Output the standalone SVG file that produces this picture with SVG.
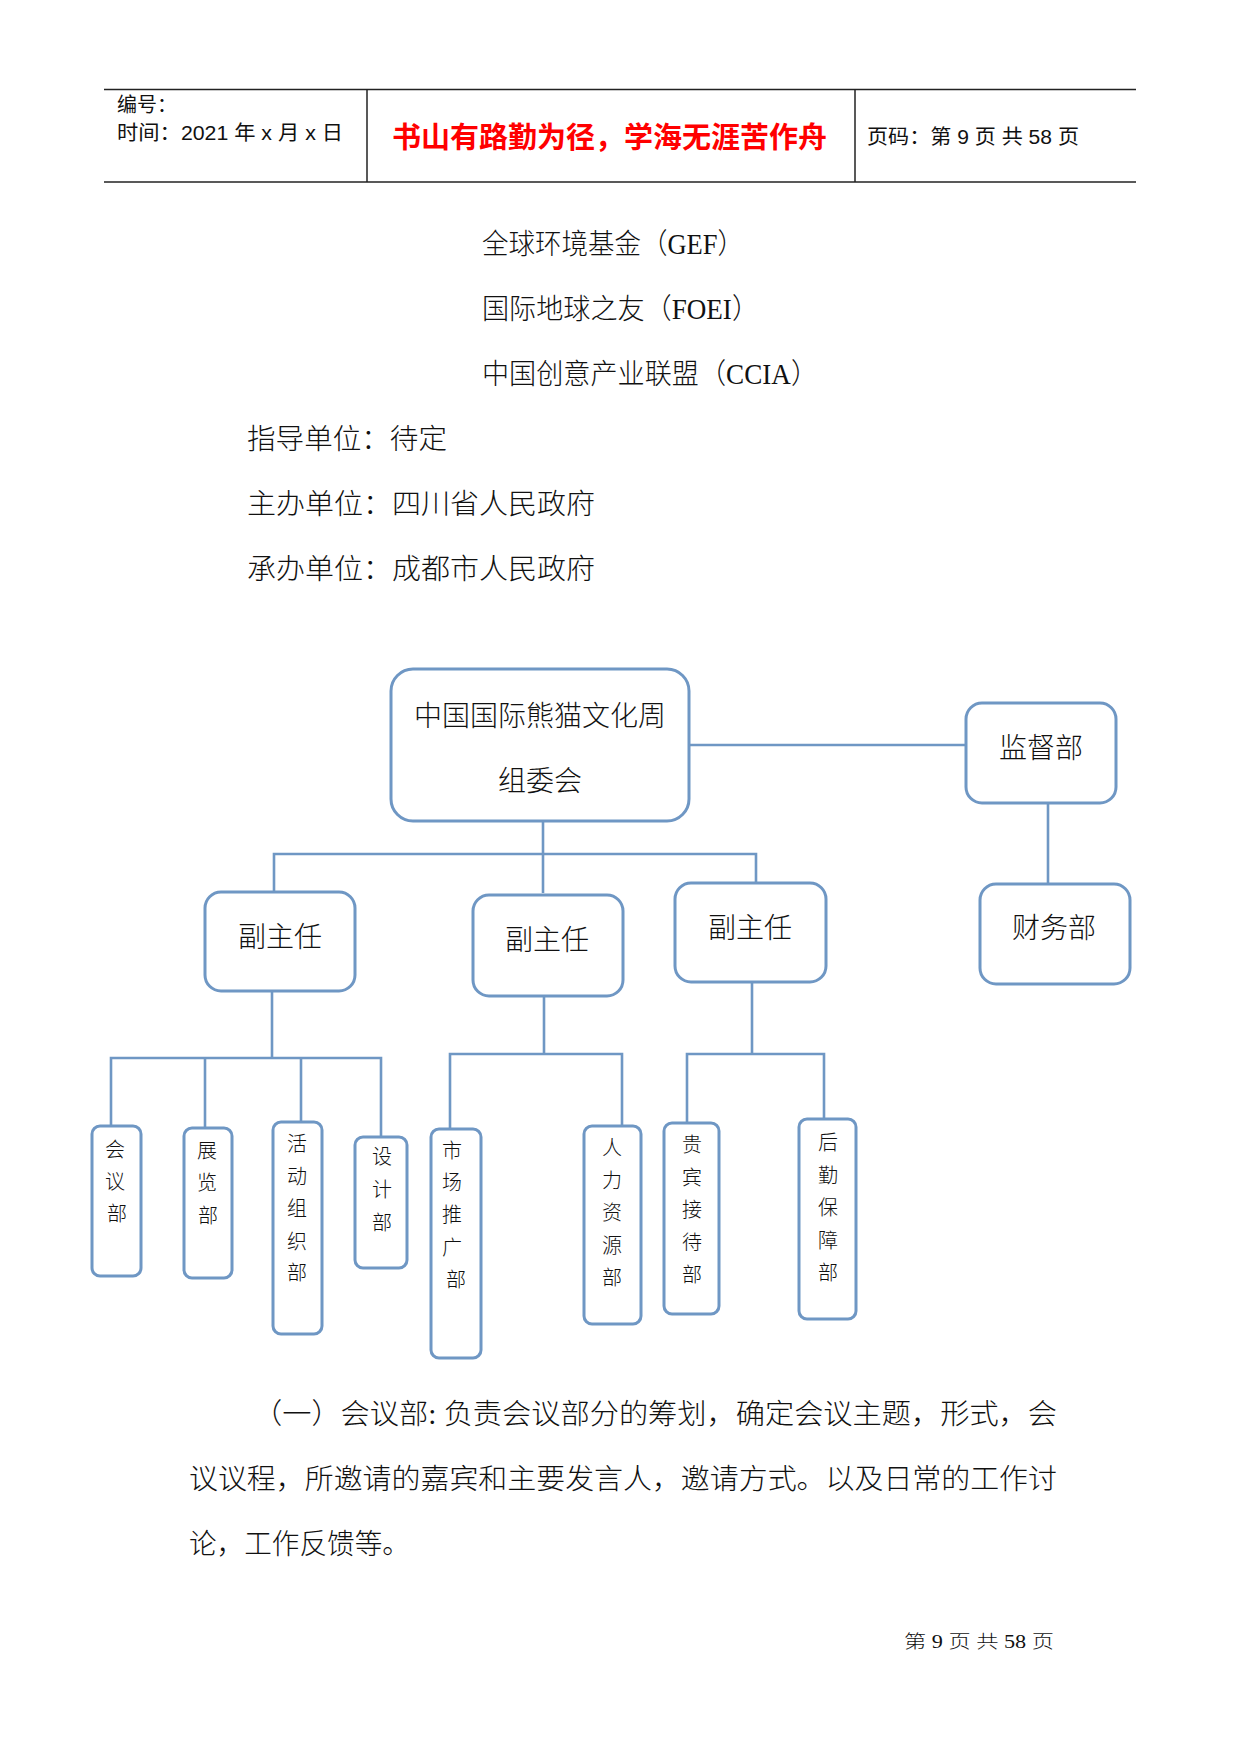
<svg xmlns="http://www.w3.org/2000/svg" width="1241" height="1754" viewBox="0 0 1241 1754">
<style>
.t{font-family:"Liberation Serif","Noto Sans CJK SC",serif;fill:#111;font-weight:300}
.h{font-family:"Liberation Sans","Noto Sans CJK SC",sans-serif;fill:#111}
.body{font-size:28.5px}
.box{fill:#fff;stroke:#6f97c4;stroke-width:3}
.con{fill:none;stroke:#6f97c4;stroke-width:2.6}
.lab{font-size:28px;text-anchor:middle}
.v{font-size:20px;text-anchor:middle}
.rule{stroke:#222;stroke-width:1.5}
</style>
<rect width="1241" height="1754" fill="#fff"/>
<g id="header">
<line class="rule" x1="104" y1="89.5" x2="1136" y2="89.5"/>
<line class="rule" x1="104" y1="182" x2="1136" y2="182"/>
<line class="rule" x1="367" y1="89.5" x2="367" y2="182"/>
<line class="rule" x1="855" y1="89.5" x2="855" y2="182"/>
<text class="h" x="117" y="112" font-size="20">编号：</text>
<text class="h" x="117" y="140" font-size="20" textLength="226" lengthAdjust="spacingAndGlyphs">时间：2021 年 x 月 x 日</text>
<text x="392" y="148" font-size="29" font-weight="bold" fill="#ff0000" font-family="'Noto Sans CJK SC',sans-serif" textLength="435" lengthAdjust="spacingAndGlyphs">书山有路勤为径，学海无涯苦作舟</text>
<text class="h" x="867" y="144" font-size="20" textLength="212" lengthAdjust="spacingAndGlyphs">页码：第 9 页 共 58 页</text>
</g>
<g id="intro">
<text class="t body" x="482" y="254" textLength="262" lengthAdjust="spacingAndGlyphs">全球环境基金（GEF）</text>
<text class="t body" x="482" y="319" textLength="277" lengthAdjust="spacingAndGlyphs">国际地球之友（FOEI）</text>
<text class="t body" x="482" y="384" textLength="336" lengthAdjust="spacingAndGlyphs">中国创意产业联盟（CCIA）</text>
<text class="t body" x="247" y="449" textLength="200" lengthAdjust="spacingAndGlyphs">指导单位：待定</text>
<text class="t body" x="247" y="514" textLength="348" lengthAdjust="spacingAndGlyphs">主办单位：四川省人民政府</text>
<text class="t body" x="247" y="579" textLength="348" lengthAdjust="spacingAndGlyphs">承办单位：成都市人民政府</text>
</g>
<g id="connectors">
<path class="con" d="M689 745 H966"/>
<path class="con" d="M1048 803 V884"/>
<path class="con" d="M543 821 V893"/>
<path class="con" d="M274 892 V854 H756 V883"/>
<path class="con" d="M272 991 V1058"/>
<path class="con" d="M111 1126 V1058 H381 V1137"/>
<path class="con" d="M205 1058 V1128"/>
<path class="con" d="M301 1058 V1122"/>
<path class="con" d="M544 996 V1054"/>
<path class="con" d="M450 1129 V1054 H622 V1126"/>
<path class="con" d="M752 982 V1054"/>
<path class="con" d="M687 1123 V1054 H824 V1119"/>
</g>
<g id="n-committee">
<rect class="box" x="391" y="669" width="298" height="152" rx="22"/>
<text class="t lab" x="540" y="726">中国国际熊猫文化周</text>
<text class="t lab" x="540" y="791">组委会</text>
</g>
<g id="n-supervise">
<rect class="box" x="966" y="703" width="150" height="100" rx="16"/>
<text class="t lab" x="1041" y="758">监督部</text>
</g>
<g id="n-finance">
<rect class="box" x="980" y="884" width="150" height="100" rx="16"/>
<text class="t lab" x="1054" y="938">财务部</text>
</g>
<g id="n-deputy1">
<rect class="box" x="205" y="892" width="150" height="99" rx="16"/>
<text class="t lab" x="280" y="947">副主任</text>
</g>
<g id="n-deputy2">
<rect class="box" x="473" y="895" width="150" height="101" rx="16"/>
<text class="t lab" x="547" y="950">副主任</text>
</g>
<g id="n-deputy3">
<rect class="box" x="675" y="883" width="151" height="99" rx="16"/>
<text class="t lab" x="750" y="938">副主任</text>
</g>
<g id="n-meeting">
<rect class="box" x="92" y="1126" width="49" height="150" rx="8"/>
<text class="t v" x="115" y="1157">会</text><text class="t v" x="115" y="1189">议</text><text class="t v" x="117" y="1221">部</text>
</g>
<g id="n-exhibit">
<rect class="box" x="184" y="1128" width="48" height="150" rx="8"/>
<text class="t v" x="207" y="1158">展</text><text class="t v" x="207" y="1190">览</text><text class="t v" x="208" y="1223">部</text>
</g>
<g id="n-activity">
<rect class="box" x="273" y="1122" width="49" height="212" rx="8"/>
<text class="t v" x="297" y="1151">活</text><text class="t v" x="297" y="1184">动</text><text class="t v" x="297" y="1216">组</text><text class="t v" x="297" y="1249">织</text><text class="t v" x="297" y="1280">部</text>
</g>
<g id="n-design">
<rect class="box" x="355" y="1137" width="52" height="131" rx="8"/>
<text class="t v" x="382" y="1164">设</text><text class="t v" x="382" y="1197">计</text><text class="t v" x="382" y="1230">部</text>
</g>
<g id="n-market">
<rect class="box" x="431" y="1129" width="50" height="229" rx="8"/>
<text class="t v" x="452" y="1158">市</text><text class="t v" x="452" y="1190">场</text><text class="t v" x="452" y="1222">推</text><text class="t v" x="452" y="1255">广</text><text class="t v" x="456" y="1287">部</text>
</g>
<g id="n-hr">
<rect class="box" x="584" y="1126" width="57" height="198" rx="8"/>
<text class="t v" x="612" y="1155">人</text><text class="t v" x="612" y="1188">力</text><text class="t v" x="612" y="1220">资</text><text class="t v" x="612" y="1253">源</text><text class="t v" x="612" y="1285">部</text>
</g>
<g id="n-guest">
<rect class="box" x="664" y="1123" width="55" height="191" rx="8"/>
<text class="t v" x="692" y="1152">贵</text><text class="t v" x="692" y="1185">宾</text><text class="t v" x="692" y="1217">接</text><text class="t v" x="692" y="1250">待</text><text class="t v" x="692" y="1282">部</text>
</g>
<g id="n-logistics">
<rect class="box" x="799" y="1119" width="57" height="200" rx="8"/>
<text class="t v" x="828" y="1150">后</text><text class="t v" x="828" y="1183">勤</text><text class="t v" x="828" y="1215">保</text><text class="t v" x="828" y="1248">障</text><text class="t v" x="828" y="1280">部</text>
</g>
<g id="paragraph">
<text class="t body" x="253" y="1424" textLength="804" lengthAdjust="spacingAndGlyphs">（一）会议部: 负责会议部分的筹划，确定会议主题，形式，会</text>
<text class="t body" x="189" y="1489" textLength="868" lengthAdjust="spacingAndGlyphs">议议程，所邀请的嘉宾和主要发言人，邀请方式。以及日常的工作讨</text>
<text class="t body" x="189" y="1554" textLength="221" lengthAdjust="spacingAndGlyphs">论，工作反馈等。</text>
</g>
<g id="footer">
<text class="t" x="904" y="1648" font-size="18" textLength="150" lengthAdjust="spacingAndGlyphs">第 9 页 共 58 页</text>
</g>
</svg>
